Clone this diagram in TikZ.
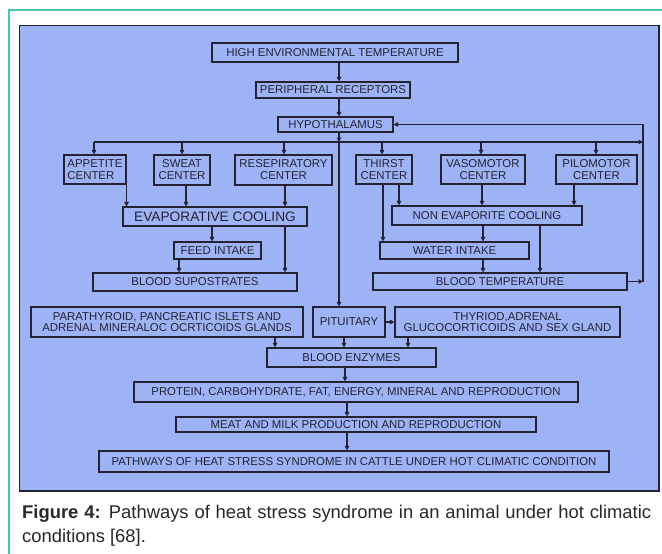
\documentclass[tikz,border=0pt]{standalone}
\usepackage{fontspec}
\setmainfont{Liberation Sans}
\usetikzlibrary{arrows.meta}
\definecolor{panel}{RGB}{157,179,246}
\definecolor{tealline}{RGB}{70,199,176}
\definecolor{ink}{RGB}{35,35,50}
\definecolor{frame}{RGB}{35,35,50}
\definecolor{captxt}{RGB}{40,40,40}
\begin{document}
\begin{tikzpicture}[x=1pt,y=-1pt,
  bx/.style={draw=ink, line width=1.1pt, inner sep=0pt, align=center, text=ink,
    font=\fontsize{11.4}{12}\selectfont},
  bigbx/.style={bx, font=\fontsize{13.7}{14}\selectfont},
  arr/.style={draw=ink, line width=1.1pt, -{Triangle[width=4.5pt,length=4.5pt]}},
  ln/.style={draw=ink, line width=1.1pt}]
\fill[white] (0,0) rectangle (662,554);
\useasboundingbox (0,0) rectangle (662,554);
\draw[tealline, line width=1.2pt] (9,554) -- (9,10) -- (662,10);
\draw[frame, line width=1.5pt, fill=panel] (19.5,25.5) rectangle (659,491);

% nodes
\node[bx, minimum width=246, minimum height=19] (het) at (335,52.5) {HIGH ENVIRONMENTAL TEMPERATURE};
\node[bx, minimum width=154, minimum height=16] (per) at (333,90) {PERIPHERAL RECEPTORS};
\node[bx, minimum width=115, minimum height=15] (hyp) at (335.5,124.5) {HYPOTHALAMUS};

\node[bx, minimum width=62, minimum height=29, align=left] (app) at (95,169.5) {APPETITE\\CENTER};
\node[bx, minimum width=56, minimum height=30] (swe) at (182,170) {SWEAT\\CENTER};
\node[bx, minimum width=97, minimum height=30] (res) at (283.5,170) {RESEPIRATORY\\CENTER};
\node[bx, minimum width=56, minimum height=29] (thi) at (384,169.5) {THIRST\\CENTER};
\node[bx, minimum width=84, minimum height=29] (vas) at (483,169.5) {VASOMOTOR\\CENTER};
\node[bx, minimum width=81, minimum height=29] (pil) at (596.5,169.5) {PILOMOTOR\\CENTER};

\node[bigbx, minimum width=184, minimum height=19] (evc) at (215,216.5) {EVAPORATIVE COOLING};
\node[bx, minimum width=190, minimum height=19] (nec) at (487,215.5) {NON EVAPORITE COOLING};
\node[bx, minimum width=87, minimum height=17] (fin) at (217.5,250.5) {FEED INTAKE};
\node[bx, minimum width=149, minimum height=17] (win) at (454.5,250.5) {WATER INTAKE};
\node[bx, minimum width=204, minimum height=18] (bsu) at (195,282) {BLOOD SUPOSTRATES};
\node[bx, minimum width=254, minimum height=17] (btm) at (500,281.5) {BLOOD TEMPERATURE};

\node[bx, minimum width=272, minimum height=30, font=\fontsize{11.4}{11}\selectfont] (par) at (167,322) {PARATHYROID, PANCREATIC ISLETS AND\\ADRENAL MINERALOC OCRTICOIDS GLANDS};
\node[bx, minimum width=72, minimum height=30] (pit) at (349,322) {PITUITARY};
\node[bx, minimum width=225, minimum height=30, font=\fontsize{11.4}{11}\selectfont] (thy) at (507.5,322) {THYRIOD,ADRENAL\\GLUCOCORTICOIDS AND SEX GLAND};
\node[bx, minimum width=169, minimum height=19] (ben) at (351.5,357.5) {BLOOD ENZYMES};
\node[bx, minimum width=444, minimum height=20] (pro) at (356,392) {PROTEIN, CARBOHYDRATE, FAT, ENERGY, MINERAL AND REPRODUCTION};
\node[bx, minimum width=360, minimum height=15] (mea) at (356,424.5) {MEAT AND MILK PRODUCTION AND REPRODUCTION};
\node[bx, minimum width=510, minimum height=21] (pat) at (354,461.5) {PATHWAYS OF HEAT STRESS SYNDROME IN CATTLE UNDER HOT CLIMATIC CONDITION};

% helper coordinates
\coordinate (sp) at (339,0);
\coordinate (dl) at (0,142);
\coordinate (fb) at (643,0);
\foreach \x in {94,182,284,382,481,596,186,285,212,179,399,383,482,574,483,540,275,344,408,345,347}
  \coordinate (c\x) at (\x,0);

% spine
\draw[arr] (het.south -| sp) -- (per.north -| sp);
\draw[arr] (per.south -| sp) -- (hyp.north -| sp);
\draw[arr] (hyp.south -| sp) -- (dl -| sp);
\draw[arr] (dl -| sp) -- (pit.north -| sp);

% distribution line
\draw[arr] (dl -| c94) -- (dl -| fb);
\foreach \c/\n in {c94/app, c182/swe, c284/res, c382/thi, c481/vas, c596/pil}
  \draw[arr] (dl -| \c) -- (\n.north -| \c);

% feedback
\draw[arr] (btm.east) -- (btm.east -| fb);
\draw[arr] (btm.east -| fb) -- (hyp.east -| fb) -- (hyp.east);

% left branch
\draw[arr] (app.south east) -- (app.south east |- evc.north);
\draw[arr] (swe.south -| c186) -- (evc.north -| c186);
\draw[arr] (res.south -| c285) -- (evc.north -| c285);
\draw[arr] (evc.south -| c212) -- (fin.north -| c212);
\draw[arr] (fin.south -| c179) -- (bsu.north -| c179);
\draw[arr] (evc.south -| c285) -- (bsu.north -| c285);

% right branch
\draw[arr] (thi.south -| c399) -- (nec.north -| c399);
\draw[arr] (thi.south -| c383) -- (win.north -| c383);
\draw[arr] (vas.south -| c482) -- (nec.north -| c482);
\draw[arr] (pil.south -| c574) -- (nec.north -| c574);
\draw[arr] (nec.south -| c483) -- (win.north -| c483);
\draw[arr] (win.south -| c483) -- (btm.north -| c483);
\draw[arr] (nec.south -| c540) -- (btm.north -| c540);

% lower part
\draw[arr] (pit.east) -- (thy.west);
\draw[arr] (par.south -| c275) -- (ben.north -| c275);
\draw[arr] (pit.south -| c344) -- (ben.north -| c344);
\draw[arr] (thy.south -| c408) -- (ben.north -| c408);
\draw[arr] (ben.south -| c345) -- (pro.north -| c345);
\draw[arr] (pro.south -| c347) -- (mea.north -| c347);
\draw[arr] (mea.south -| c347) -- (pat.north -| c347);

% caption
\node[anchor=north west, inner sep=0pt, text width=629pt, align=justify, text=captxt,
  font=\fontsize{18.4}{24}\selectfont] (cap) at (22,505)
  {\textbf{Figure 4:} Pathways of heat stress syndrome in an animal under hot climatic\linebreak conditions [68].};
\end{tikzpicture}
\end{document}
